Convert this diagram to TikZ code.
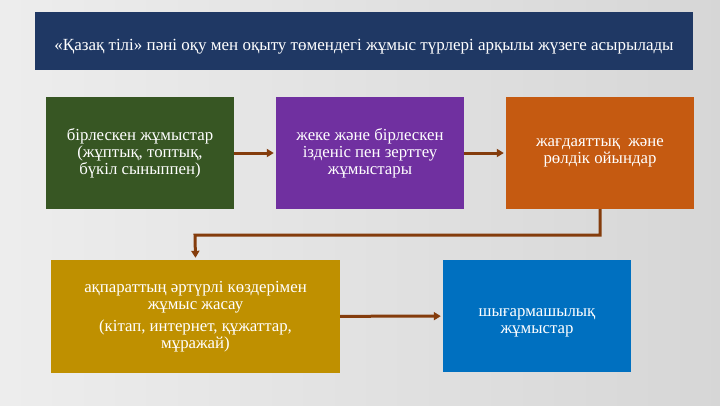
\documentclass[tikz,border=0pt]{standalone}
\usepackage{fontspec}
\setmainfont{Liberation Serif}
\usepackage{xcolor}
\definecolor{titleblue}{RGB}{31,56,100}
\definecolor{boxgreen}{RGB}{55,86,35}
\definecolor{boxpurple}{RGB}{112,48,160}
\definecolor{boxorange}{RGB}{197,90,17}
\definecolor{boxgold}{RGB}{191,144,0}
\definecolor{boxblue}{RGB}{0,112,192}
\definecolor{arrowbrown}{RGB}{132,60,12}
\definecolor{bgleft}{gray}{.93}
\definecolor{bgright}{gray}{.84}
\usetikzlibrary{arrows.meta}
\newcommand{\widthbox}{188pt}
\newcommand{\heightbox}{112pt}
\newcommand{\widthwide}{289pt}
\tikzset{
    common/.style={rectangle, inner sep=3pt, text=white, align=center, font=\fontsize{16.8}{17}\selectfont},
    box/.style={common, minimum width=\widthbox, minimum height=\heightbox},
    widebox/.style={box, minimum width=\widthwide},
    headbox/.style={common, fill=titleblue, minimum width=658pt, minimum height=58pt},
    flow/.style={draw=arrowbrown, line width=3pt, shorten >=2pt, -{Triangle[length=7pt,width=8pt]}}
}

\begin{document}
\begin{tikzpicture}[x=1pt, y=-1pt]
              \shade[left color=bgleft, middle color=white, right color=bgright] (0,0) rectangle (720,405);
              \useasboundingbox (0,0) rectangle (720,405);

              \node[headbox, font=\fontsize{17}{17}\selectfont] (title) at (364,41)
                  {\raisebox{-9pt}[0pt][0pt]{«Қазақ тілі» пәні оқу мен оқыту төмендегі жұмыс түрлері арқылы жүзеге асырылады}};

              \node[box, fill=boxgreen] (joint) at (140,153)
                  {бірлескен жұмыстар\\(жұптық, топтық,\\бүкіл сыныппен)};
              \node[box, fill=boxpurple] (research) at (370,153)
                  {жеке және бірлескен\\ізденіс пен зерттеу\\жұмыстары};
              \node[box, fill=boxorange] (games) at (600,153)
                  {жағдаяттық\ \ және\\рөлдік ойындар};

              \node[widebox, fill=boxgold, minimum height=113pt] (sources) at (195.5,316.5)
                  {ақпараттың әртүрлі көздерімен\\жұмыс жасау\\[5pt](кітап, интернет, құжаттар,\\мұражай)};
              \node[box, fill=boxblue] (creative) at (537,316)
                  {\raisebox{-9.5pt}[0pt][0pt]{\begin{tabular}{@{}c@{}}шығармашылық\\жұмыстар\end{tabular}}};

              \coordinate (turn) at (195,235);

              \draw[flow] (joint) -- (research);
              \draw[flow] (research) -- (games);
              \draw[flow] (games.south) |- (turn) -- (sources.north);
              \draw[flow] (sources) -- (creative);
            \end{tikzpicture}
\end{document}
